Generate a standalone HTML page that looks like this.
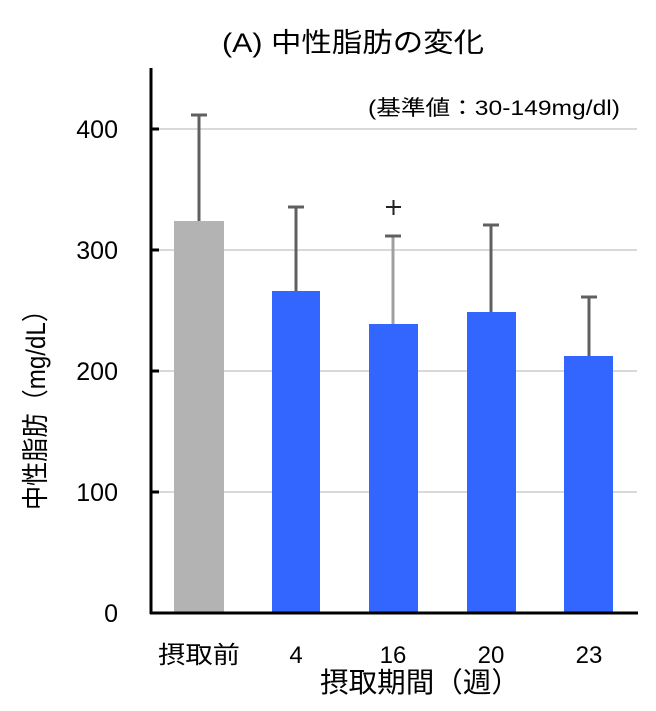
<!DOCTYPE html><html><head><meta charset="utf-8"><style>body{margin:0;background:#fff}</style></head><body>
<svg width="656" height="706" xmlns="http://www.w3.org/2000/svg" font-family="'Liberation Sans','Noto Sans CJK JP',sans-serif">
<rect width="656" height="706" fill="#fff"/>
<g stroke="#d9d9d9" stroke-width="2">
<line x1="152" y1="129" x2="637" y2="129"/><line x1="152" y1="250" x2="637" y2="250"/><line x1="152" y1="371" x2="637" y2="371"/><line x1="152" y1="492" x2="637" y2="492"/></g>
<rect x="174" y="221" width="50" height="392" fill="#b3b3b3"/>
<rect x="272" y="291" width="48" height="322" fill="#3366ff"/>
<rect x="369" y="324" width="49" height="289" fill="#3366ff"/>
<rect x="467" y="312" width="49" height="301" fill="#3366ff"/>
<rect x="564" y="356" width="49" height="257" fill="#3366ff"/>
<g stroke="#606060" stroke-width="3">
<line x1="199" y1="221" x2="199" y2="115"/><line x1="191" y1="115" x2="207" y2="115"/>
<line x1="296" y1="291" x2="296" y2="207"/><line x1="288" y1="207" x2="304" y2="207"/>
<line x1="393" y1="324" x2="393" y2="236" stroke="#a0a0a0"/><line x1="385" y1="236" x2="401" y2="236"/>
<line x1="491" y1="312" x2="491" y2="225"/><line x1="483" y1="225" x2="499" y2="225"/>
<line x1="589" y1="356" x2="589" y2="297"/><line x1="581" y1="297" x2="597" y2="297"/>
</g>
<g stroke="#222" stroke-width="2"><line x1="386" y1="207" x2="401" y2="207"/><line x1="393.5" y1="200" x2="393.5" y2="215"/></g>
<g stroke="#000" stroke-width="3">
<line x1="151" y1="68" x2="151" y2="614"/><line x1="150" y1="613" x2="638" y2="613"/>
<line x1="151" y1="129" x2="159" y2="129"/><line x1="151" y1="250" x2="159" y2="250"/><line x1="151" y1="371" x2="159" y2="371"/><line x1="151" y1="492" x2="159" y2="492"/></g>
<g font-size="25" fill="#000" text-anchor="end">
<text x="118" y="138">400</text><text x="118" y="259">300</text><text x="118" y="380">200</text><text x="118" y="501">100</text><text x="118" y="622">0</text></g>
<g font-size="24" fill="#000">
<text x="158" y="663" textLength="82" lengthAdjust="spacingAndGlyphs">摂取前</text>
<text x="296" y="663" text-anchor="middle">4</text><text x="393" y="663" text-anchor="middle">16</text><text x="491" y="663" text-anchor="middle">20</text><text x="589" y="663" text-anchor="middle">23</text>
<text x="320" y="692" font-size="28" textLength="200" lengthAdjust="spacingAndGlyphs">摂取期間（週）</text>
<text x="222" y="52" font-size="27" textLength="262" lengthAdjust="spacingAndGlyphs">(A) 中性脂肪の変化</text></g>
<text x="368" y="115" font-size="21" textLength="252" lengthAdjust="spacingAndGlyphs">(基準値：30-149mg/dl)</text>
<text transform="translate(45,510) rotate(-90)" font-size="27" textLength="212" lengthAdjust="spacingAndGlyphs">中性脂肪（mg/dL）</text>
</svg></body></html>
